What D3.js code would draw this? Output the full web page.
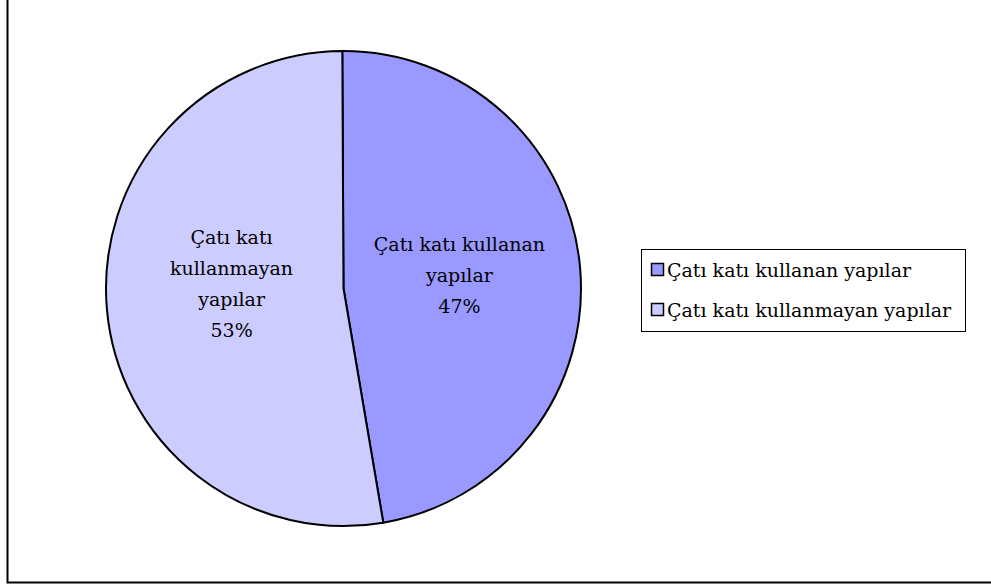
<!DOCTYPE html>
<html><head><meta charset="utf-8">
<script src="https://cdn.jsdelivr.net/npm/d3@7"></script>
<style>body{margin:0;background:#fff}svg{display:block}
text{font-family:"DejaVu Serif","Liberation Serif",serif;}</style>
</head><body>
<svg id="c" width="991" height="584"></svg>
<script>
const categories = ["Çatı katı kullanan yapılar", "Çatı katı kullanmayan yapılar"];
const values = [47.4, 52.6];
const percentLabels = ["47%", "53%"];
const labelLines = [["Çatı katı kullanan", "yapılar"], ["Çatı katı", "kullanmayan", "yapılar"]];
const colors = ["#9999FF", "#CCCCFF"];

const svg = d3.select("#c");

// outer frame
svg.append("rect").attr("x", 7.5).attr("y", -2).attr("width", 1000).attr("height", 584.5)
  .attr("fill", "none").attr("stroke", "#000").attr("stroke-width", 2);

const cx = 343.5, cy = 288.5, r = 237.5;
const g = svg.append("g").attr("transform", `translate(${cx},${cy})`);
const pie = d3.pie().sort(null).startAngle(-0.005).endAngle(2 * Math.PI - 0.005)(values);
const arc = d3.arc().innerRadius(0).outerRadius(r);
g.selectAll("path").data(pie).join("path")
  .attr("d", arc).attr("fill", (d, i) => colors[i])
  .attr("stroke", "#000").attr("stroke-width", 2).attr("stroke-linejoin", "round");

const labelArc = d3.arc().innerRadius(r * 0.49).outerRadius(r * 0.49);
const lh = 31;
pie.forEach((d, i) => {
  const [x, y] = labelArc.centroid(d);
  const lines = labelLines[i].concat([percentLabels[i]]);
  const y0 = y - (lines.length - 1) * lh / 2 + 4 + (i === 1 ? -12 : 0);
  const t = g.append("text").attr("text-anchor", "middle")
    .style("font-size", "19px").attr("fill", "#000");
  lines.forEach((l, k) => {
    t.append("tspan").attr("x", x + (i === 1 ? 4 : 0)).attr("y", y0 + k * lh).text(l);
  });
});

// legend
const lg = svg.append("g");
lg.append("rect").attr("x", 641.5).attr("y", 249.5).attr("width", 324).attr("height", 82)
  .attr("fill", "#fff").attr("stroke", "#000").attr("stroke-width", 1);
categories.forEach((c, i) => {
  const yy = 263 + i * 40;
  lg.append("rect").attr("x", 651.5).attr("y", yy + 0.5).attr("width", 12).attr("height", 12)
    .attr("fill", colors[i]).attr("stroke", "#000").attr("stroke-width", 1.5);
  lg.append("text").attr("x", 667).attr("y", yy + 14)
    .style("font-size", "19px").attr("fill", "#000").text(c);
});
</script>
</body></html>
